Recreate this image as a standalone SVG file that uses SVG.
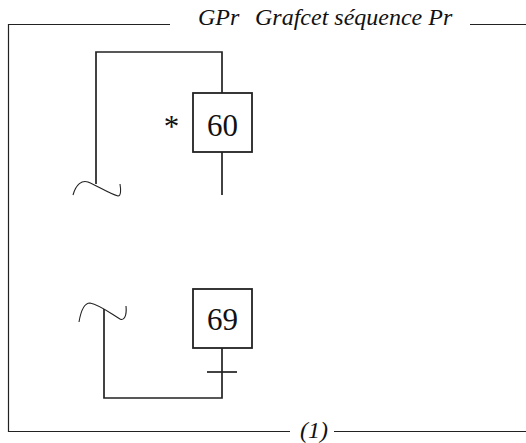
<svg xmlns="http://www.w3.org/2000/svg" width="526" height="443" viewBox="0 0 526 443">
  <style>
    .frame { fill: none; stroke: #222; stroke-width: 1.2; }
    .step { fill: #fff; stroke: #222; stroke-width: 1.8; }
    .link { fill: none; stroke: #222; stroke-width: 1.7; }
    .cut { fill: none; stroke: #222; stroke-width: 1.1; }
    text { font-family: 'Liberation Serif', 'Times New Roman', 'DejaVu Serif', serif; fill: #111; }
    .title { font-style: italic; font-size: 24px; }
    .num { font-size: 31px; text-anchor: middle; }
  </style>

  <!-- enclosing frame with title and page reference -->
  <g id="frame">
    <path class="frame" d="M170,24.5 H8.5 V431.5 H290 M334,431.5 H526 M470,24.5 H526"/>
    <text class="title" y="25" font-family="Liberation Serif, serif"><tspan x="198">GPr</tspan><tspan x="255">Grafcet séquence Pr</tspan></text>
    <text class="title" x="300" y="438" font-family="Liberation Serif, serif">(1)</text>
  </g>

  <!-- connectors -->
  <g id="connectors">
    <!-- loop coming back into step 60 -->
    <path class="link" d="M96,184 V52 H222 V93"/>
    <path class="link" d="M222,152 V195"/>
    <path class="cut" d="M73,195 C76,184 82,180 88,182 C98,186 108,193 118,196 C121,196 121,190 120,184"/>
    <!-- exit of step 69 through its transition -->
    <path class="link" d="M222,348 V398 H104 V309"/>
    <path class="link" d="M207,372 H237"/>
    <path class="cut" d="M79,322 C81,310 85,303 90,303 C100,305 110,313 120,319 C124,321 127,316 126,306"/>
  </g>

  <g id="step60">
    <rect class="step" x="193" y="93" width="59" height="59"/>
    <text class="num" x="222.5" y="135.5" font-family="Liberation Serif, serif">60</text>
    <text class="num" x="171.5" y="137" font-family="Liberation Serif, serif">*</text>
  </g>

  <g id="step69">
    <rect class="step" x="193" y="289" width="59" height="59"/>
    <text class="num" x="222.5" y="330" font-family="Liberation Serif, serif">69</text>
  </g>
</svg>
